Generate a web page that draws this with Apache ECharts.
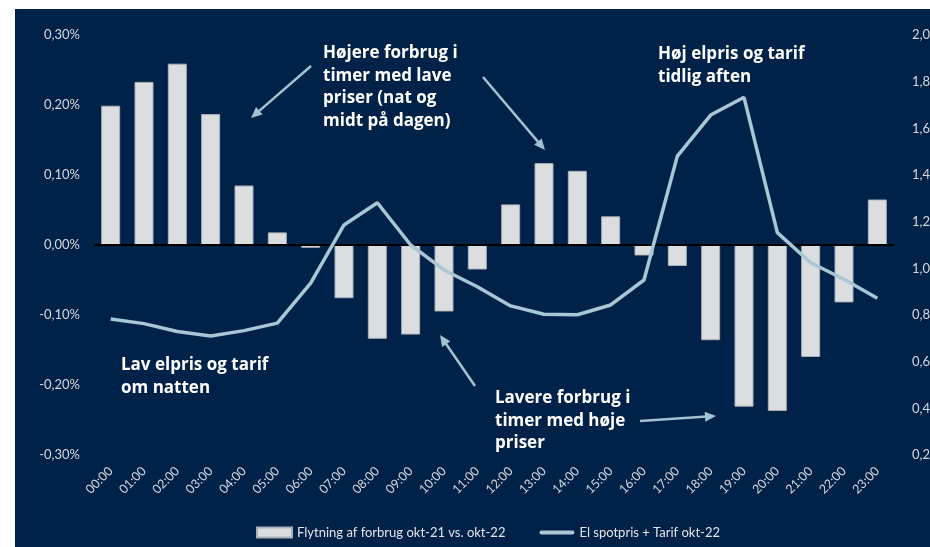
<!DOCTYPE html>
<html><head><meta charset="utf-8">
<script src="https://cdn.jsdelivr.net/npm/echarts@6/dist/echarts.min.js"></script>
<style>
html,body{margin:0;padding:0;background:#012248;overflow:hidden;}
#topw{position:absolute;left:0;top:0;width:930px;height:9px;background:#fff;}
#leftw{position:absolute;left:0;top:0;width:15px;height:547px;background:#fff;}
#c{position:absolute;left:0;top:0;width:930px;height:547px;}
</style></head>
<body>
<div id="topw"></div><div id="leftw"></div>
<div id="c"></div>
<script>
const hours = ['00:00','01:00','02:00','03:00','04:00','05:00','06:00','07:00','08:00','09:00','10:00','11:00',
               '12:00','13:00','14:00','15:00','16:00','17:00','18:00','19:00','20:00','21:00','22:00','23:00'];
const shiftPct = [0.199,0.233,0.259,0.187,0.085,0.018,-0.004,-0.076,-0.134,-0.128,-0.095,-0.035,
                  0.058,0.117,0.106,0.041,-0.015,-0.030,-0.136,-0.231,-0.237,-0.160,-0.082,0.065];
const priceDkk = [0.783,0.763,0.729,0.710,0.733,0.765,0.937,1.186,1.281,1.100,0.993,0.921,
                  0.839,0.803,0.801,0.843,0.950,1.481,1.657,1.733,1.153,1.024,0.953,0.872];
const seriesNames = ['Flytning af forbrug okt-21 vs. okt-22','El spotpris + Tarif okt-22'];
const notes = [
  {text:'Højere forbrug i\ntimer med lave\npriser (nat og\nmidt på dagen)', x:323, y:42},
  {text:'Høj elpris og tarif\ntidlig aften', x:658, y:43},
  {text:'Lav elpris og tarif\nom natten', x:121, y:354},
  {text:'Lavere forbrug i\ntimer med høje\npriser', x:495, y:387}
];
const arrows = [[311,66,251,118],[483,77,545,150],[475,386,440,335],[640,421,716,416]];

const ARROW = '#a3c2d1';
function arrowEls(a){
  const [x1,y1,x2,y2]=a;
  const dx=x2-x1, dy=y2-y1, L=Math.hypot(dx,dy), ux=dx/L, uy=dy/L;
  const hl=11, hw=5;
  const bx=x2-ux*hl, by=y2-uy*hl;
  return [
    {type:'line', shape:{x1:x1,y1:y1,x2:bx+ux*2,y2:by+uy*2}, style:{stroke:ARROW,lineWidth:2.5}},
    {type:'polygon', shape:{points:[[x2,y2],[bx-uy*hw,by+ux*hw],[bx+uy*hw,by-ux*hw]]}, style:{fill:ARROW}}
  ];
}
const graphics = [];
arrows.forEach(a=>graphics.push(...arrowEls(a)));
notes.forEach(n=>graphics.push({type:'text', x:n.x, y:n.y, style:{text:n.text, fill:'#ffffff',
  fontSize:17, fontWeight:'bold', fontFamily:'"Open Sans", sans-serif', lineHeight:22.5, textVerticalAlign:'top'}}));

const fmtPct = v => (Math.abs(v)<1e-9?0:v).toFixed(2).replace('.',',')+'%';
const fmtNum = v => v.toFixed(2).replace('.',',');

const chart = echarts.init(document.getElementById('c'));
chart.setOption({
  backgroundColor:'transparent',
  animation:false,
  textStyle:{fontFamily:'Lato, "Noto Sans", sans-serif'},
  grid:{left:94, right:36, top:35, bottom:92, containLabel:false, outerBoundsMode:'none'},
  legend:{
    left:251, top:521, itemGap:34, itemWidth:35, itemHeight:10,
    textStyle:{color:'#e3e5e8', fontSize:13, fontFamily:'Lato, sans-serif'},
    data:[{name:seriesNames[0], icon:'rect'},
          {name:seriesNames[1], icon:'path://M2,0 H33 A2,2 0 0 1 33,4 H2 A2,2 0 0 1 2,0 Z'}]
  },
  xAxis:{
    type:'category', data:hours,
    axisLine:{show:false, onZero:false}, axisTick:{show:false},
    axisLabel:{rotate:45, color:'#d5d9de', fontSize:12.5, margin:14, interval:0}
  },
  yAxis:[
    {type:'value', min:-0.3, max:0.3, interval:0.1, position:'left',
     splitLine:{show:false}, axisLine:{show:false}, axisTick:{show:false},
     axisLabel:{formatter:fmtPct, color:'#d5d9de', fontSize:13, margin:14}},
    {type:'value', min:0.2, max:2.0, interval:0.2, position:'right',
     splitLine:{show:false}, axisLine:{show:false}, axisTick:{show:false},
     axisLabel:{formatter:fmtNum, color:'#d5d9de', fontSize:13, margin:18}}
  ],
  series:[
    {name:seriesNames[0], type:'bar', data:shiftPct, yAxisIndex:0, barWidth:'57%',
     itemStyle:{color:'#dcdddf', borderColor:'#a9b1ba', borderWidth:1},
     markLine:{silent:true, symbol:'none', label:{show:false},
       lineStyle:{color:'#000000', width:2, type:'solid'}, data:[{yAxis:0}]}},
    {name:seriesNames[1], type:'line', data:priceDkk, yAxisIndex:1, symbol:'none', smooth:false,
     lineStyle:{color:'#a8c7d5', width:3.5}, itemStyle:{color:'#a8c7d5'}, z:5}
  ],
  graphic:graphics
});
</script>
</body></html>
